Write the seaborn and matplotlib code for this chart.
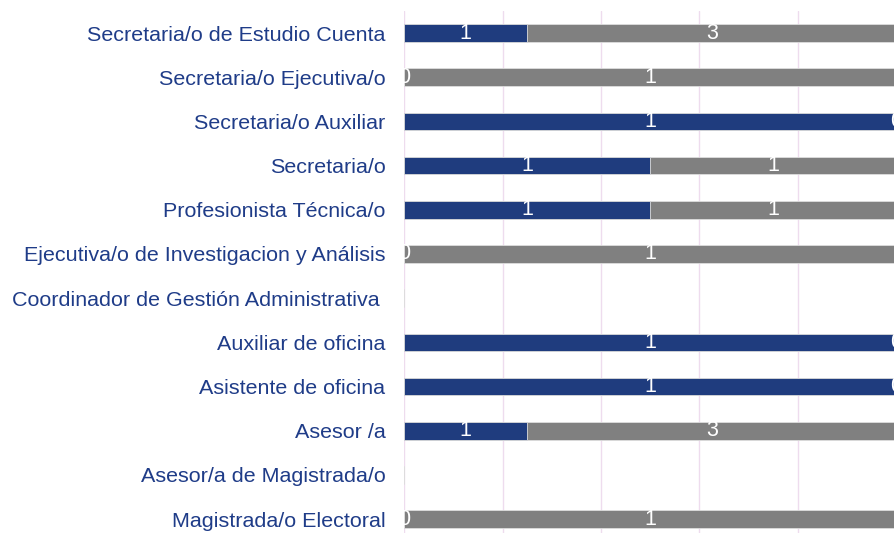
import numpy as np
import pandas as pd
import matplotlib
matplotlib.use("Agg")
import matplotlib.pyplot as plt
import seaborn as sns

puestos = [
    "Secretaria/o de Estudio Cuenta",
    "Secretaria/o Ejecutiva/o",
    "Secretaria/o Auxiliar",
    "Secretaria/o",
    "Profesionista Técnica/o",
    "Ejecutiva/o de Investigacion y Análisis",
    "Coordinador de Gestión Administrativa ",
    "Auxiliar de oficina",
    "Asistente de oficina",
    "Asesor /a",
    "Asesor/a de Magistrada/o",
    "Magistrada/o Electoral",
]
azul_n = [1, 0, 1, 1, 1, 0, 0, 1, 1, 1, 0, 0]
gris_n = [3, 1, 0, 1, 1, 1, 0, 0, 0, 3, 0, 1]

AZUL = "#1f3c7e"
GRIS = "#808080"
TXT = "#1f3c88"

sns.set_theme(style="white")
plt.rcParams["font.family"] = ["Liberation Sans", "DejaVu Sans"]

total = np.array(azul_n) + np.array(gris_n)
safe = np.where(total > 0, total, 1)
df = pd.DataFrame({
    "puesto": puestos,
    "azul": np.array(azul_n) / safe,
    "todo": np.where(total > 0, 1.0, 0.0),
})

fig = plt.figure(figsize=(8.94, 5.33), dpi=100)
ax = fig.add_axes([0.452, -0.0155, 0.5505, 0.995])

# gray = full share, blue drawn on top of it
sns.barplot(data=df, x="todo", y="puesto", order=puestos, color=GRIS,
            width=0.4, edgecolor="#dddddd", linewidth=0.6, saturation=1, ax=ax)
sns.barplot(data=df, x="azul", y="puesto", order=puestos, color=AZUL,
            width=0.4, edgecolor="#dddddd", linewidth=0.6, saturation=1, ax=ax)

ax.set_xlim(0, 1)
ax.set_ylim(len(puestos) - 0.5, -0.5)
ax.set_xlabel("")
ax.set_ylabel("")
ax.set_xticks([0, 0.2, 0.4, 0.6, 0.8, 1.0])
ax.set_xticklabels([])
ax.grid(axis="x", color="#eedcee", linewidth=1)
ax.set_axisbelow(True)
for s in ax.spines.values():
    s.set_visible(False)
ax.tick_params(axis="y", length=0, pad=13.5, labelsize=15.45, labelcolor=TXT)
ax.tick_params(axis="x", length=0)

for i, (a, g, t) in enumerate(zip(azul_n, gris_n, total)):
    if t == 0:
        continue
    pa = a / t
    ax.text(pa / 2, i, str(a), color="white", ha="center", va="center",
            fontsize=15.5, clip_on=True)
    ax.text(pa + (1 - pa) / 2, i, str(g), color="white", ha="center",
            va="center", fontsize=15.5, clip_on=True)

fig.savefig("out.png", dpi=100)
